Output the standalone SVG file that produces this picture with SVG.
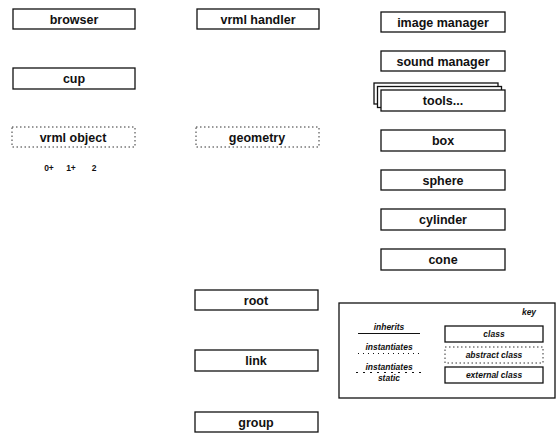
<svg xmlns="http://www.w3.org/2000/svg" width="557" height="434" viewBox="0 0 557 434">
<style>
.box{fill:#fff;stroke:#111;stroke-width:1.3}
.abs{fill:#fff;stroke:#333;stroke-width:1;stroke-dasharray:1.5 2.5}
.lbl{font-family:"Liberation Sans",Arial,sans-serif;font-weight:bold;font-size:12.5px;fill:#111;text-anchor:middle}
.key{font-family:"Liberation Sans",Arial,sans-serif;font-weight:bold;font-style:italic;font-size:8.5px;fill:#111;text-anchor:middle}
.small{font-family:"Liberation Sans",Arial,sans-serif;font-weight:bold;font-size:8.5px;fill:#111;text-anchor:middle}
</style>
<rect width="557" height="434" fill="#fff"/>
<g id="browser"><rect class="box" x="13" y="9" width="122" height="20"/><text class="lbl" x="74" y="23.5">browser</text></g>
<g id="cup"><rect class="box" x="13" y="68" width="122" height="21"/><text class="lbl" x="74" y="83">cup</text></g>
<g id="vrml-object"><rect class="abs" x="12" y="127" width="123" height="20"/><text class="lbl" x="73" y="141.5">vrml object</text><text class="small" x="49" y="171">0+</text><text class="small" x="71" y="171">1+</text><text class="small" x="94" y="171">2</text></g>
<g id="vrml-handler"><rect class="box" x="197" y="9" width="122" height="20"/><text class="lbl" x="258" y="23.5">vrml handler</text></g>
<g id="geometry"><rect class="abs" x="196" y="127" width="123" height="20"/><text class="lbl" x="257" y="141.5">geometry</text></g>
<g id="image-manager"><rect class="box" x="381" y="12" width="124" height="20"/><text class="lbl" x="443" y="26.5">image manager</text></g>
<g id="sound-manager"><rect class="box" x="381" y="51" width="124" height="20"/><text class="lbl" x="443" y="65.5">sound manager</text></g>
<g id="tools"><rect class="box" x="374" y="83" width="124" height="21"/><rect class="box" x="377.5" y="86.5" width="124" height="21"/><rect class="box" x="381" y="90" width="124" height="21"/><text class="lbl" x="443" y="105">tools...</text></g>
<g id="box"><rect class="box" x="381" y="130" width="124" height="21"/><text class="lbl" x="443" y="145">box</text></g>
<g id="sphere"><rect class="box" x="381" y="170" width="124" height="20"/><text class="lbl" x="443" y="184.5">sphere</text></g>
<g id="cylinder"><rect class="box" x="381" y="209" width="124" height="21"/><text class="lbl" x="443" y="224">cylinder</text></g>
<g id="cone"><rect class="box" x="381" y="249" width="124" height="21"/><text class="lbl" x="443" y="264">cone</text></g>
<g id="root"><rect class="box" x="195" y="290" width="123" height="20"/><text class="lbl" x="256" y="304.5">root</text></g>
<g id="link"><rect class="box" x="195" y="350" width="123" height="21"/><text class="lbl" x="256" y="365">link</text></g>
<g id="group"><rect class="box" x="195" y="412" width="123" height="20"/><text class="lbl" x="256" y="426.5">group</text></g>
<g id="key">
<rect class="box" x="339" y="303" width="216" height="95"/>
<text class="key" x="529" y="315" font-size="9.5">key</text>
<text class="key" x="389" y="330">inherits</text>
<line x1="358" y1="333.5" x2="420" y2="333.5" stroke="#111" stroke-width="1"/>
<text class="key" x="389" y="350">instantiates</text>
<line x1="358" y1="353.5" x2="420" y2="353.5" stroke="#111" stroke-width="1" stroke-dasharray="1 4"/>
<text class="key" x="389" y="370">instantiates</text>
<line x1="356" y1="372.5" x2="421" y2="372.5" stroke="#111" stroke-width="1" stroke-dasharray="2 5"/>
<text class="key" x="389" y="381">static</text>
<rect class="box" x="445" y="326" width="98" height="16"/><text class="key" x="494" y="337">class</text>
<rect class="abs" x="445" y="347" width="98" height="16"/><text class="key" x="494" y="358">abstract class</text>
<rect class="box" x="445" y="367" width="98" height="16"/><text class="key" x="494" y="378">external class</text>
</g>
<g id="connectors"></g>
</svg>
